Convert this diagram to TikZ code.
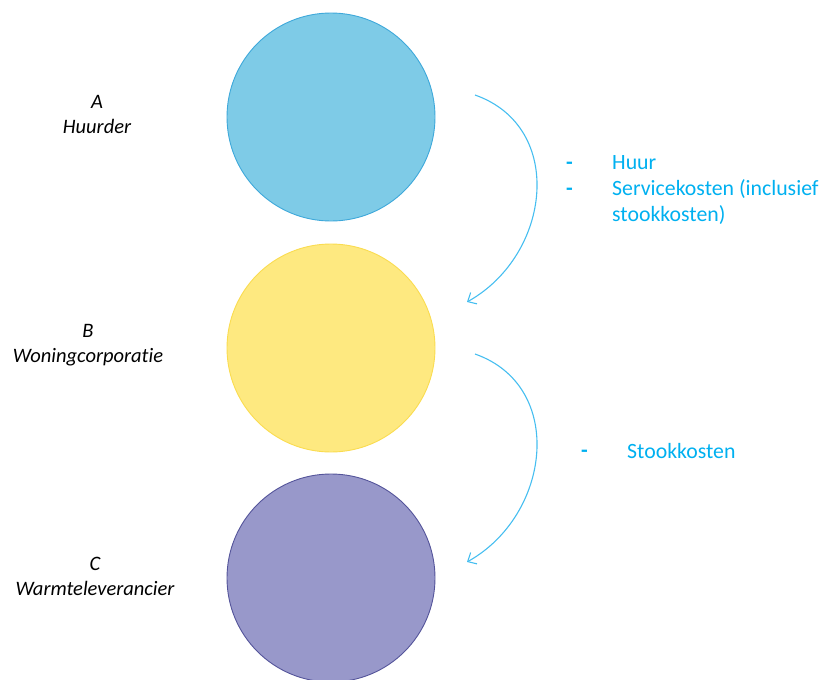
\documentclass[tikz,border=0pt]{standalone}
\usepackage{fontspec}
\setmainfont{Carlito}[Ligatures={NoCommon,NoRare}]
\usetikzlibrary{arrows.meta}
\definecolor{fillA}{RGB}{126,203,231}
\definecolor{lineA}{RGB}{62,168,218}
\definecolor{fillB}{RGB}{254,233,128}
\definecolor{lineB}{RGB}{250,220,80}
\definecolor{fillC}{RGB}{152,152,202}
\definecolor{lineC}{RGB}{84,84,154}
\definecolor{textblue}{RGB}{0,176,240}
\definecolor{arrowblue}{RGB}{70,190,240}
\begin{document}
\begin{tikzpicture}[x=1pt,y=-1pt,
  party/.style={circle,minimum size=208pt,inner sep=0pt,line width=0.9pt},
  role/.style={font=\fontsize{20.5}{25}\selectfont\itshape,align=center,text=black},
  item/.style={font=\fontsize{21.8}{26}\selectfont,text=textblue,anchor=west,inner sep=0pt},
  bullet/.style={item,font=\fontsize{21.8}{26}\selectfont\bfseries},
  flow/.style={draw=arrowblue,line width=1.1pt,-{Straight Barb[length=7pt,width=13pt]}}]
  \useasboundingbox (0,0) rectangle (825,680);
  \clip (0,0) rectangle (825,680);
  % the three parties
  \node[party,fill=fillA,draw=lineA] (a) at (331,117) {};
  \node[party,fill=fillB,draw=lineB] (b) at (331,348) {};
  \node[party,fill=fillC,draw=lineC] (c) at (331,578) {};
  % their names
  \node[role] (la) at (97,114) {A\\Huurder};
  \node[role] (lb) at (88,345) {B\\Woningcorporatie};
  \node[role] (lc) at (95,576) {C\\Warmteleverancier};
  % payment flows
  \coordinate (a1) at (475,95);
  \coordinate (b1) at (467,302);
  \coordinate (b2) at (475,354);
  \coordinate (c1) at (467,562);
  \draw[flow] (a1) .. controls (566,127) and (551,255) .. (b1);
  \draw[flow] (b2) .. controls (566,386) and (551,515) .. (c1);
  % what is paid
  \node[bullet] (d1) at (566,166) {-};
  \node[item] (t1) at (612,163) {Huur};
  \node[bullet] (d2) at (566,192) {-};
  \node[item] (t2) at (612,189) {Servicekosten (inclusief};
  \node[item] (t3) at (612,215) {stookkosten)};
  \node[bullet] (d3) at (581,454) {-};
  \node[item] (t4) at (627,451) {Stookkosten};
\end{tikzpicture}
\end{document}
